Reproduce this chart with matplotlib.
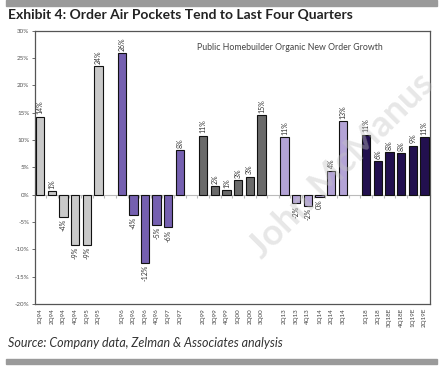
import numpy as np
import matplotlib.pyplot as plt
from matplotlib.patches import Rectangle

# quarters, in five cycles of six
groups = [
    ["1Q94", "2Q94", "3Q94", "4Q94", "1Q95", "2Q95"],
    ["1Q96", "2Q96", "3Q96", "4Q96", "1Q97", "2Q97"],
    ["2Q99", "3Q99", "4Q99", "1Q00", "2Q00", "3Q00"],
    ["2Q13", "3Q13", "4Q13", "1Q14", "2Q14", "3Q14"],
    ["1Q18", "2Q18", "3Q18E", "4Q18E", "1Q19E", "2Q19E"],
]
growth = [
    [14.3, 0.7, -4.0, -9.2, -9.2, 23.6],
    [25.9, -3.7, -12.5, -5.5, -6.0, 8.2],
    [10.8, 1.6, 0.8, 2.6, 3.3, 14.5],
    [10.6, -1.6, -2.1, -0.4, 4.4, 13.5],
    [11.0, 6.1, 7.8, 7.6, 9.0, 10.6],
]
bar_labels = [
    ["14%", "1%", "-4%", "-9%", "-9%", "24%"],
    ["26%", "-4%", "-12%", "-5%", "-6%", "8%"],
    ["11%", "2%", "1%", "3%", "3%", "15%"],
    ["11%", "-2%", "-2%", "0%", "4%", "13%"],
    ["11%", "6%", "8%", "8%", "9%", "11%"],
]
colors = ["#c9c9c9", "#7560b0", "#6a6a6a", "#b3a3d6", "#22104f"]

fig = plt.figure(figsize=(4.43, 3.67), dpi=100)
plt.rcParams['font.family'] = ['Lato', 'DejaVu Sans']

ax = fig.add_axes([0.079, 0.172, 0.892, 0.744])

xticks, xlabels = [], []
pos = 0
for names, vals, labs, col in zip(groups, growth, bar_labels, colors):
    x = np.arange(pos, pos + len(vals))
    ax.bar(x, vals, width=0.72, color=col, edgecolor="#111111", linewidth=0.8, zorder=3)
    for xi, v, t in zip(x, vals, labs):
        if v >= 0:
            ax.text(xi, v + 0.4, t, rotation=90, ha="center", va="bottom", fontsize=5, color="#333333")
        else:
            ax.text(xi, v - 0.4, t, rotation=90, ha="center", va="top", fontsize=5, color="#333333")
    xticks += list(x)
    xlabels += names
    pos += len(vals) + 1

ax.set_xlim(-0.45, pos - 1.5)
ax.set_ylim(-20, 30)
ax.set_yticks(np.arange(-20, 31, 5))
ax.set_yticklabels([f"{v}%" for v in range(-20, 31, 5)], fontsize=4.5, color="#555555")
ax.set_xticks(xticks)
ax.set_xticklabels(xlabels, rotation=90, fontsize=4.5, color="#444444")
ax.tick_params(axis="x", length=0, pad=3)
ax.tick_params(axis="y", length=2, width=0.6, color="#555555", pad=2)
for s in ax.spines.values():
    s.set_color("#555555")
    s.set_linewidth(0.9)

# category axis line through zero
zero = ax.secondary_xaxis(0.4)
zero.set_xticks(np.arange(-0.5, pos - 1, 1))
zero.tick_params(axis="x", direction="out", length=2, color="#bbbbbb", labelbottom=False, labeltop=False, top=False, bottom=True)
zero.spines["bottom"].set_color("#bbbbbb")
zero.spines["bottom"].set_linewidth(0.8)

ax.text(0.645, 0.938, "Public Homebuilder Organic New Order Growth", transform=ax.transAxes,
        ha="center", va="center", fontsize=6.3, color="#444444")

fig.text(0.77, 0.55, "John McManus", rotation=45, ha="center", va="center", fontsize=26,
         fontweight="bold", color="#c4c4c4", alpha=0.4, zorder=10)

fig.text(0.018, 0.958, "Exhibit 4: Order Air Pockets Tend to Last Four Quarters",
         fontsize=10, fontweight="bold", color="#222222", ha="left", va="center")
fig.text(0.018, 0.065, "Source: Company data, Zelman & Associates analysis",
         fontsize=9, style="italic", color="#333333", ha="left", va="center")

fig.patches.append(Rectangle((0.014, 0.984), 0.972, 0.016, transform=fig.transFigure,
                             color="#9a9a9a", zorder=0))
fig.patches.append(Rectangle((0.014, 0.008), 0.972, 0.013, transform=fig.transFigure,
                             color="#9a9a9a", zorder=0))

fig.savefig("out.png", dpi=100)
